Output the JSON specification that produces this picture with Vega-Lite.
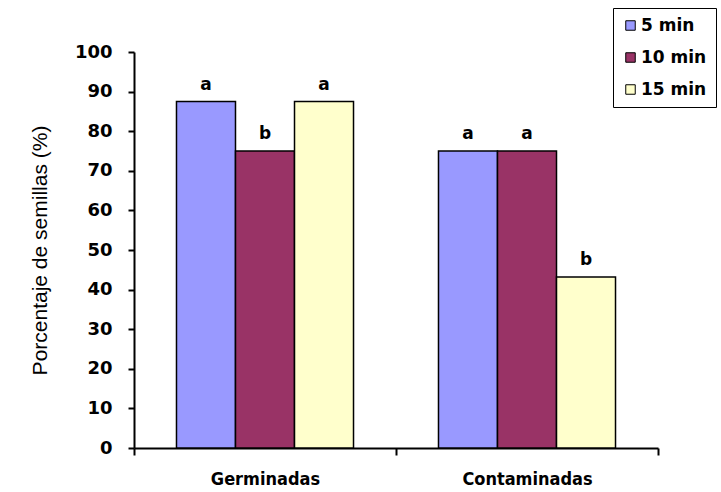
{
  "$schema": "https://vega.github.io/schema/vega-lite/v6.json",
  "width": 524,
  "height": 396,
  "autosize": {"type": "none"},
  "padding": {"left": 134, "top": 52, "right": 63, "bottom": 44},
  "background": "white",
  "config": {
    "view": {"stroke": null},
    "font": "Liberation Sans",
    "axis": {"domainColor": "black", "domainWidth": 2, "tickColor": "black", "tickWidth": 2, "grid": false, "labelColor": "black", "titleColor": "black"}
  },
  "data": {
    "values": [
      {"categoria": "Germinadas", "tiempo": "5 min", "porcentaje": 87.5, "letra": "a"},
      {"categoria": "Germinadas", "tiempo": "10 min", "porcentaje": 75, "letra": "b"},
      {"categoria": "Germinadas", "tiempo": "15 min", "porcentaje": 87.5, "letra": "a"},
      {"categoria": "Contaminadas", "tiempo": "5 min", "porcentaje": 75, "letra": "a"},
      {"categoria": "Contaminadas", "tiempo": "10 min", "porcentaje": 75, "letra": "a"},
      {"categoria": "Contaminadas", "tiempo": "15 min", "porcentaje": 43.2, "letra": "b"}
    ]
  },
  "encoding": {
    "x": {
      "field": "categoria", "type": "nominal", "sort": ["Germinadas", "Contaminadas"],
      "scale": {"paddingInner": 0, "paddingOuter": 0},
      "axis": {"title": null, "labelAngle": 0, "tickBand": "extent", "tickSize": 7, "labelPadding": 15, "labelFontSize": 18, "labelFontWeight": "bold", "labelFont": "'DejaVu Sans Condensed', 'DejaVu Sans', sans-serif"}
    },
    "xOffset": {
      "field": "tiempo", "type": "nominal", "sort": ["5 min", "10 min", "15 min"],
      "scale": {"paddingInner": 0, "paddingOuter": 0.72}
    },
    "y": {
      "field": "porcentaje", "type": "quantitative",
      "scale": {"domain": [0, 100], "nice": false},
      "axis": {"title": "Porcentaje de semillas (%)", "values": [0, 10, 20, 30, 40, 50, 60, 70, 80, 90, 100], "tickSize": 6, "labelPadding": 16, "labelFontSize": 18, "labelFontWeight": "bold", "labelFont": "DejaVu Sans", "titleFontSize": 21, "titleFontWeight": "normal", "titlePadding": 24}
    }
  },
  "layer": [
    {
      "mark": {"type": "bar", "stroke": "black", "strokeWidth": 1.5},
      "encoding": {
        "color": {
          "field": "tiempo", "type": "nominal", "sort": ["5 min", "10 min", "15 min"],
          "scale": {"domain": ["5 min", "10 min", "15 min"], "range": ["#9999ff", "#993366", "#ffffcc"]},
          "legend": {
            "title": null, "orient": "none", "legendX": 479, "legendY": -44,
            "strokeColor": "black", "fillColor": "white", "padding": 9,
            "symbolType": "square", "symbolSize": 90, "symbolStrokeColor": "black", "symbolStrokeWidth": 1,
            "labelFontSize": 17, "labelFontWeight": "bold", "labelFont": "DejaVu Sans", "labelColor": "black", "rowPadding": 14, "labelOffset": 2
          }
        }
      }
    },
    {
      "mark": {"type": "text", "dy": -8, "fontSize": 17, "fontWeight": "bold", "font": "DejaVu Sans", "color": "black", "baseline": "bottom"},
      "encoding": {"text": {"field": "letra"}}
    }
  ]
}
